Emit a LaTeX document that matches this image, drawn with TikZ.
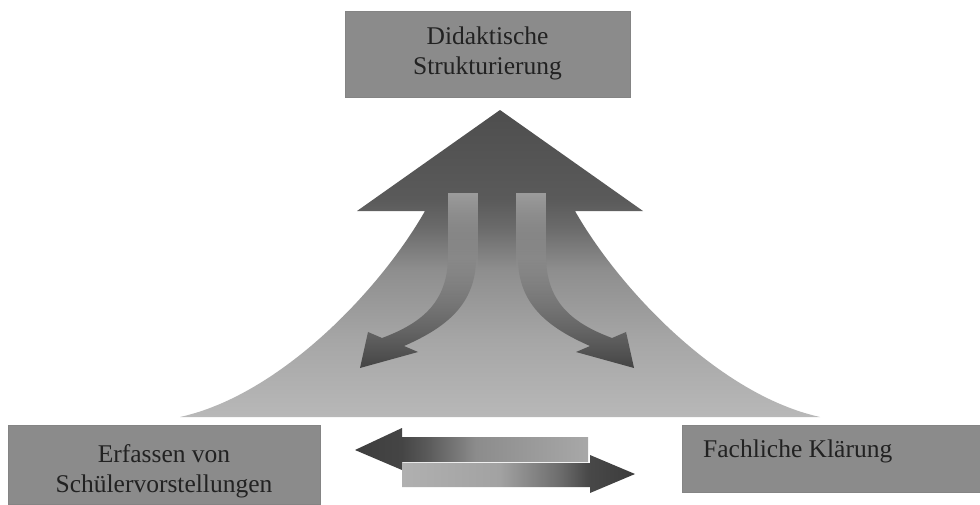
\documentclass[tikz,border=0pt]{standalone}
\usepackage{fontspec}
\setmainfont{Liberation Serif}
\usetikzlibrary{fadings}

% greys
\definecolor{boxgray}{HTML}{8B8B8B}
\definecolor{inkgray}{HTML}{222222}
\definecolor{stripegray}{HTML}{A8A8A8}
\definecolor{arrowdark}{HTML}{444444}

% mountain: light base, dark arrow head
\definecolor{m0}{HTML}{B8B8B8}
\definecolor{m1}{HTML}{A6A6A6}
\definecolor{m2}{HTML}{8E8E8E}
\definecolor{m3}{HTML}{6A6A6A}
\definecolor{m4}{HTML}{5A5A5A}
\definecolor{m5}{HTML}{4E4E4E}
\pgfdeclareverticalshading{mountainshade}{100bp}{%
  color(0bp)=(m0); color(25bp)=(m0); color(37.5bp)=(m1); color(49bp)=(m2);
  color(56bp)=(m3); color(60.5bp)=(m4); color(75bp)=(m5); color(100bp)=(m5)}

% horizontal arrows
\definecolor{l0}{HTML}{3E3E3E}
\definecolor{l1}{HTML}{454545}
\definecolor{l2}{HTML}{5C5C5C}
\definecolor{l3}{HTML}{8C8C8C}
\definecolor{l4}{HTML}{A8A8A8}
\pgfdeclarehorizontalshading{leftarrowshade}{100bp}{%
  color(0bp)=(l0); color(25bp)=(l0); color(35bp)=(l1); color(41bp)=(l2);
  color(51bp)=(l3); color(75bp)=(l4); color(100bp)=(l4)}
\definecolor{r0}{HTML}{B0B0B0}
\definecolor{r1}{HTML}{A2A2A2}
\definecolor{r2}{HTML}{6C6C6C}
\definecolor{r3}{HTML}{484848}
\definecolor{r4}{HTML}{3C3C3C}
\pgfdeclarehorizontalshading{rightarrowshade}{100bp}{%
  color(0bp)=(r0); color(25bp)=(r0); color(46bp)=(r1); color(59bp)=(r2);
  color(65bp)=(r3); color(75bp)=(r4); color(100bp)=(r4)}

\tikzfading[name=arrowfade, top color=transparent!100,
  middle color=transparent!45, bottom color=transparent!0]
\tikzfading[name=stripefade, top color=transparent!15,
  middle color=transparent!60, bottom color=transparent!100]

\tikzset{
  box/.style={rectangle, fill=boxgray, draw=boxgray!95!black, line width=0.5pt, inner sep=0pt},
  labeltext/.style={text=inkgray, inner sep=0pt, font=\fontsize{25.5}{30}\selectfont},
}

\begin{document}
\begin{tikzpicture}[x=1pt, y=-1pt]
  \useasboundingbox (0,0) rectangle (980,504);
  \fill[white] (0,0) rectangle (980,504);

  % the three fields
  \node[box, minimum width=285pt, minimum height=86pt] (topbox) at (487.5,54) {};
  \node[box, minimum width=312pt, minimum height=79pt] (leftbox) at (164,464.5) {};
  \node[box, minimum width=298pt, minimum height=67pt] (rightbox) at (831,458.5) {};

  \node[labeltext, align=center] (toptext) at (487.5,53) {Didaktische\\Strukturierung};
  \node[labeltext, align=center] (lefttext) at (164,471) {Erfassen von\\Schülervorstellungen};
  \node[labeltext, anchor=base west] (righttext) at (703,457) {Fachliche Klärung};

  % flared upward arrow
  \shade[shading=mountainshade]
    (500,110) -- (643,211) -- (575,211)
    .. controls (620,290) and (720,395) .. (820,417)
    -- (180,417)
    .. controls (280,395) and (380,290) .. (425,211)
    -- (357,211) -- cycle;

  % light stripes inside the shaft
  \fill[stripegray, path fading=stripefade] (448,193) rectangle (478,270);
  \fill[stripegray, path fading=stripefade] (516,193) rectangle (546,270);

  % curved arrows bending to both sides
  \fill[arrowdark, path fading=arrowfade]
    (448,258) .. controls (447,300) and (425,322) .. (382,338)
    -- (368,332) -- (360,368) -- (418,352) -- (404,346)
    .. controls (445,328) and (476,305) .. (476,258) -- cycle;
  \fill[arrowdark, path fading=arrowfade]
    (546,258) .. controls (547,300) and (569,322) .. (612,338)
    -- (626,332) -- (634,368) -- (576,352) -- (590,346)
    .. controls (549,328) and (518,305) .. (518,258) -- cycle;

  % exchange arrows between the lower fields
  \shade[shading=leftarrowshade]
    (355,450) -- (402,428) -- (402,437) -- (588,437) -- (588,462)
    -- (402,462) -- (402,470) -- cycle;
  \shade[shading=rightarrowshade]
    (402,463) -- (590,463) -- (590,455) -- (635,474) -- (590,493)
    -- (590,487) -- (402,487) -- cycle;
\end{tikzpicture}
\end{document}
